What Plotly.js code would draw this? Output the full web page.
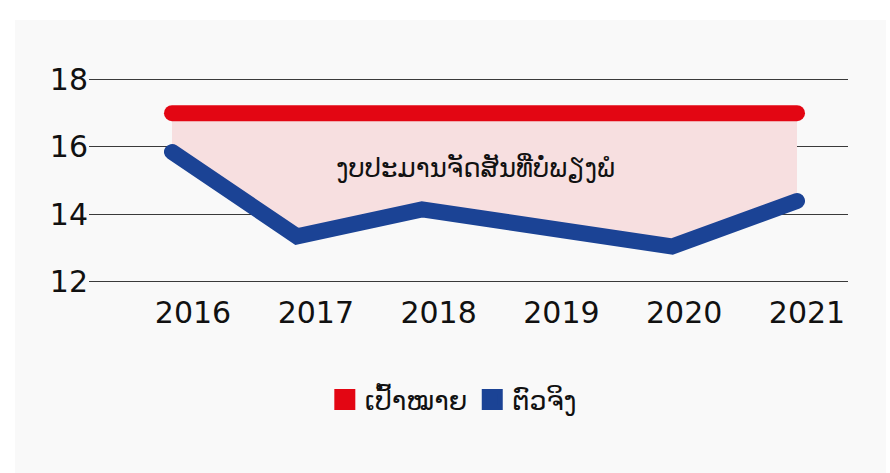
<!DOCTYPE html>
<html>
<head>
<meta charset="utf-8">
<script src="https://cdn.plot.ly/plotly-3.0.1.min.js"></script>
<style>
  html, body { margin: 0; padding: 0; background: #ffffff; }
  #chart { width: 890px; height: 473px; }
  .scatterlayer .js-line { stroke-linecap: round; }
</style>
</head>
<body>
<div id="chart"></div>
<script>
// ---- data ----
const years = ['2016', '2017', '2018', '2019', '2020', '2021'];
const target = [17, 17, 17, 17, 17, 17];
const actual = [15.85, 13.35, 14.15, 13.6, 13.05, 14.4];
const yTicks = [12, 14, 16, 18];
const seriesNames = ['ເປົ້າໝາຍ', 'ຕົວຈິງ'];
const gapLabel = 'ງບປະມານຈັດສັນທີ່ບໍ່ພຽງພໍ';

const RED = '#e30613';
const BLUE = '#1b4395';
const FONT = 'DejaVu Sans, Verdana, sans-serif';

const traces = [
  {
    type: 'scatter', mode: 'lines', x: years, y: actual,
    line: { color: BLUE, width: 16 },
    showlegend: false, hoverinfo: 'skip'
  },
  {
    type: 'scatter', mode: 'lines', x: years, y: target,
    line: { color: RED, width: 16 },
    fill: 'tonexty', fillcolor: '#f7dfe0',
    showlegend: false, hoverinfo: 'skip'
  },
  {
    type: 'scatter', mode: 'markers', x: [null], y: [null], xaxis: 'x2',
    name: seriesNames[0], legendrank: 1,
    marker: { symbol: 'square', size: 16, color: RED, line: { color: RED, width: 5 } }
  },
  {
    type: 'scatter', mode: 'markers', x: [null], y: [null], xaxis: 'x2',
    name: seriesNames[1], legendrank: 2,
    marker: { symbol: 'square', size: 16, color: BLUE, line: { color: BLUE, width: 5 } }
  }
];

const layout = {
  width: 890, height: 473,
  margin: { l: 89, r: 42, t: 76, b: 190 },
  paper_bgcolor: '#ffffff',
  plot_bgcolor: 'rgba(0,0,0,0)',
  font: { family: FONT, color: '#111111', size: 30 },
  showlegend: true,
  xaxis: {
    type: 'category', range: [-0.664, 5.408],
    showgrid: false, zeroline: false, showline: false,
    showticklabels: false, ticks: '', fixedrange: true
  },
  xaxis2: {
    overlaying: 'x', anchor: 'y', side: 'bottom', type: 'linear',
    range: [-0.847, 5.334],
    tickmode: 'array', tickvals: years.map((_, i) => i), ticktext: years,
    showgrid: false, zeroline: false, showline: false,
    ticks: 'outside', ticklen: 3, tickcolor: 'rgba(0,0,0,0)',
    tickfont: { family: FONT, size: 30, color: '#111111' }
  },
  yaxis: {
    range: [11.97, 18.1], tickmode: 'array', tickvals: yTicks,
    showgrid: true, gridcolor: '#3a3a3a', gridwidth: 1,
    zeroline: false, showline: false, ticks: '',
    tickfont: { family: FONT, size: 30, color: '#111111' }
  },
  legend: {
    orientation: 'h', x: 0.48, xanchor: 'center', y: -0.565, yanchor: 'middle',
    traceorder: 'normal',
    font: { family: FONT, size: 27, color: '#111111' },
    bgcolor: 'rgba(0,0,0,0)', itemclick: false
  },
  shapes: [{
    type: 'rect', xref: 'paper', yref: 'paper', layer: 'below',
    x0: -0.0975, x1: 1.05, y0: -1.1, y1: 1.2705,
    fillcolor: '#f9f9f9', line: { width: 0 }
  }],
  annotations: [{
    xref: 'paper', yref: 'paper', x: 0.5086, y: 0.555,
    xanchor: 'center', yanchor: 'middle', showarrow: false,
    text: gapLabel,
    font: { family: FONT, size: 26, color: '#111111' }
  }]
};

Plotly.newPlot('chart', traces, layout, { displayModeBar: false, staticPlot: true });
</script>
</body>
</html>
